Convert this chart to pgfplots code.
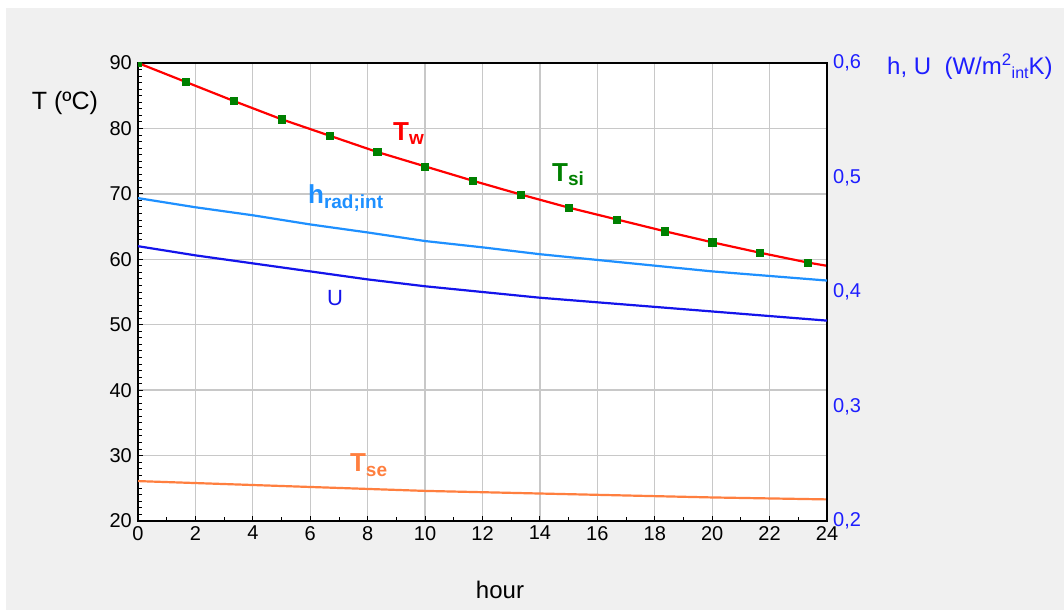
\documentclass[border=0pt]{standalone}
\usepackage{pgfplots}
\pgfplotsset{compat=1.18}
\usepackage{fontspec}
\setmainfont{Liberation Sans}
\definecolor{bg}{RGB}{240,240,240}
\definecolor{tw}{RGB}{255,0,0}
\definecolor{tsi}{RGB}{0,128,0}
\definecolor{hrad}{RGB}{30,144,255}
\definecolor{ucol}{RGB}{20,20,235}
\definecolor{tse}{RGB}{255,127,63}
\definecolor{axblue}{RGB}{30,30,255}
\definecolor{gridc}{RGB}{200,200,200}
\newcommand{\fs}[1]{\fontsize{#1}{#1}\selectfont}
\newcommand{\lab}[2]{#1\raisebox{-4.5pt}{\fs{19}#2}}
\begin{document}
\begin{tikzpicture}[x=1pt,y=1pt]
\useasboundingbox (0,0) rectangle (1064,610);
\fill[white] (0,0) rectangle (1064,610);
\fill[bg] (6,0) rectangle (1064,602);
\begin{axis}[
  at={(138pt,89pt)}, anchor=south west, scale only axis,
  width=689pt, height=458pt,
  xmin=0, xmax=24, ymin=20, ymax=90,
  xtick={0,2,...,24}, ytick={20,30,...,90},
  minor x tick num=1, minor y tick num=9,
  xtick pos=left, ytick pos=left,
  tick align=inside, major tick length=5pt, minor tick length=3.5pt,
  grid=major, major grid style={gridc, line width=1.3pt},
  axis background/.style={fill=white},
  axis line style={black, line width=1.2pt},
  tick style={black, line width=0.9pt},
  clip marker paths=true,
  /pgf/number format/assume math mode=true,
  xticklabel={\fs{20}\pgfmathprintnumber{\tick}},
  yticklabel={\fs{20}\pgfmathprintnumber{\tick}},
  xticklabel style={inner sep=0pt, yshift=-5pt},
  yticklabel style={inner sep=0pt, xshift=-6pt},
]
\addplot[tse, line width=2.2pt] coordinates {
(0,26.1) (2,25.8) (4,25.5) (6,25.2) (8,24.9) (10,24.6) (12,24.4)
(14,24.2) (16,24.0) (18,23.8) (20,23.6) (22,23.45) (24,23.3)};
\addplot[tw, line width=2.2pt] coordinates {
(0,90.0) (1.667,87.1) (3.333,84.2) (5.0,81.4) (6.667,78.9) (8.333,76.4)
(10.0,74.2) (11.667,72.0) (13.333,69.9) (15.0,67.9) (16.667,66.1)
(18.333,64.3) (20.0,62.6) (21.667,61.0) (23.333,59.5) (24,59.0)};
\addplot[only marks, mark=square*, mark size=3.6pt, tsi, mark options={fill=tsi, draw=tsi}] coordinates {
(0,90.0) (1.667,87.1) (3.333,84.2) (5.0,81.4) (6.667,78.9) (8.333,76.4)
(10.0,74.2) (11.667,72.0) (13.333,69.9) (15.0,67.9) (16.667,66.1)
(18.333,64.3) (20.0,62.6) (21.667,61.0) (23.333,59.5)};
\node[anchor=base west, text=tw, font=\fs{26}\bfseries, inner sep=0pt] at (axis cs:8.88,78.2) {\lab{T}{w}};
\node[anchor=base west, text=tsi, font=\fs{26}\bfseries, inner sep=0pt] at (axis cs:14.42,71.9) {\lab{T}{si}};
\node[anchor=base west, text=hrad, font=\fs{26}\bfseries, inner sep=0pt] at (axis cs:5.92,68.45) {\lab{h}{rad;int}};
\node[anchor=base west, text=ucol, font=\fs{22}, inner sep=0pt] at (axis cs:6.58,52.9) {U};
\node[anchor=base west, text=tse, font=\fs{26}\bfseries, inner sep=0pt] at (axis cs:7.38,27.55) {\lab{T}{se}};
\end{axis}
\begin{axis}[
  at={(138pt,89pt)}, anchor=south west, scale only axis,
  width=689pt, height=458pt,
  xmin=0, xmax=24, ymin=0.2, ymax=0.6,
  axis x line=none, axis y line*=right,
  ytick={0.2,0.3,0.4,0.5,0.6},
  ytick style={draw=none},
  axis line style={black, line width=1.2pt},
  /pgf/number format/assume math mode=true,
  yticklabel={\fs{20}\pgfmathprintnumber[fixed,fixed zerofill,precision=1,use comma]{\tick}},
  yticklabel style={text=axblue, inner sep=0pt, xshift=6pt},
]
\addplot[hrad, line width=2.2pt] coordinates {
(0,0.482) (2,0.474) (4,0.467) (6,0.459) (8,0.452) (10,0.4445) (12,0.439)
(14,0.433) (16,0.428) (18,0.423) (20,0.418) (22,0.414) (24,0.410)};
\addplot[ucol, line width=2.2pt] coordinates {
(0,0.440) (2,0.432) (4,0.425) (6,0.418) (8,0.411) (10,0.405) (12,0.400)
(14,0.395) (16,0.391) (18,0.387) (20,0.383) (22,0.379) (24,0.375)};
\end{axis}
\node[font=\fs{25}] at (65,507) {T (ºC)};
\node[font=\fs{24}] at (500,20) {hour};
\node[anchor=west, text=axblue, font=\fs{24}, inner sep=0pt] at (887,543) {h, U\ \ (W/m\textsuperscript{2}\raisebox{-4pt}{\fs{16}int}K)};
\end{tikzpicture}
\end{document}
